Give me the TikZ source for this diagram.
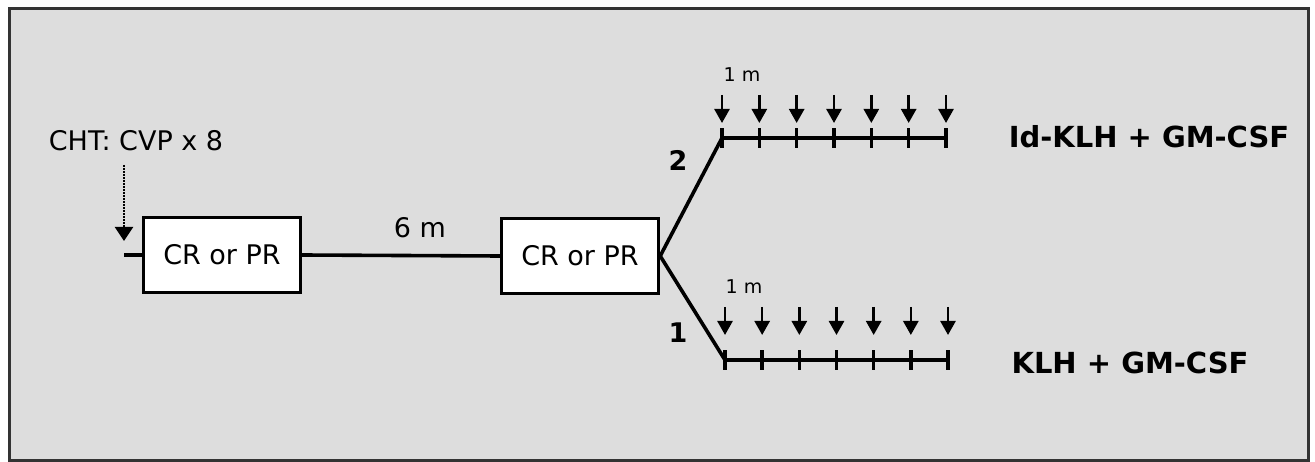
\documentclass[tikz,border=0pt]{standalone}
\usepackage{fontspec}
\setmainfont{DejaVu Sans}
\usetikzlibrary{arrows.meta,calc}
\definecolor{bgcol}{HTML}{DDDDDD}
\definecolor{framecol}{HTML}{333333}
\begin{document}
\begin{tikzpicture}[x=1pt,y=-1pt,
  mainline/.style={line width=3.6pt},
  box/.style={draw, line width=3.4pt, fill=white, minimum width=157pt, minimum height=75pt, inner sep=0pt, font=\fontsize{27}{30}\selectfont},
  lbl/.style={inner sep=0pt, font=\fontsize{27}{30}\selectfont},
  small/.style={inner sep=0pt, font=\fontsize{19}{21}\selectfont},
  boldlbl/.style={inner sep=0pt, font=\fontsize{27}{30}\selectfont\bfseries},
  treat/.style={inner sep=0pt, font=\fontsize{29}{32}\selectfont\bfseries},
  tick/.style={line width=3.4pt},
  dose/.style={line width=2.6pt, -{Triangle[width=15pt,length=14pt]}}]
\useasboundingbox (0,0) rectangle (1315,462);
\fill[white] (0,0) rectangle (1315,462);
\draw[fill=bgcol, draw=framecol, line width=3pt] (9,9) rectangle (1308,460);
% boxes
\node[box] (box1) at (222,255) {CR or PR};
\node[box] (box2) at (580,256) {CR or PR};
% chemotherapy
\node[lbl] (cht) at (136,141) {CHT: CVP x 8};
\coordinate (chtTop) at (124,165);
\coordinate (chtTip) at (124,241);
\draw[line width=2pt, densely dotted, -{Triangle[width=18pt,length=14pt,sep=0pt]}] (chtTop) -- (chtTip);
\coordinate (start) at (124,255);
\draw[mainline] (start) -- (box1.west);
\draw[mainline] (box1.east) -- (box2.west);
\node[lbl] (six) at (420,228) {6 m};
% branches
\coordinate (u0) at (722,138);
\coordinate (u1) at (946,138);
\coordinate (l0) at (725,360);
\coordinate (l1) at (948,360);
\draw[mainline, line join=miter] (box2.east) -- (u0) -- (u1);
\draw[mainline, line join=miter] (box2.east) -- (l0) -- (l1);
\node[boldlbl] (two) at (678,160) {2};
\node[boldlbl] (one) at (678,333) {1};
% ticks and doses
\foreach \i in {0,...,6} {
  \coordinate (ut\i) at ($(u0)!\i/6!(u1)$);
  \coordinate (lt\i) at ($(l0)!\i/6!(l1)$);
}
\foreach \i in {0,...,6} {
  \draw[tick] ([yshift=-10pt]ut\i) -- ([yshift=10pt]ut\i);
  \draw[tick] ([yshift=-10pt]lt\i) -- ([yshift=10pt]lt\i);
  \draw[dose] ([yshift=43pt]ut\i) -- ([yshift=15pt]ut\i);
  \draw[dose] ([yshift=53pt]lt\i) -- ([yshift=25pt]lt\i);
}
\node[small] (m1) at (742,75) {1 m};
\node[small] (m2) at (744,287) {1 m};
\node[treat] (t2) at (1149,137) {Id-KLH + GM-CSF};
\node[treat] (t1) at (1130,363) {KLH + GM-CSF};
\end{tikzpicture}
\end{document}
